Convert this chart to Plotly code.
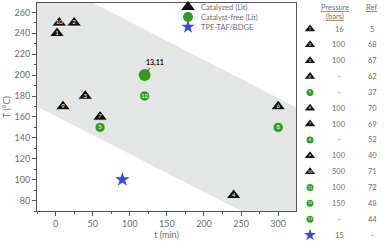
import plotly.graph_objects as go

# ---------------- data ----------------
cat_t = [2, 25, 40, 240, 300, 60, 10, 5]
cat_T = [240, 250, 180, 85, 170, 160, 170, 250]
cat_id = ["1", "2", "3", "4", "6", "7", "9", "10"]

free_t = [60, 300, 120]
free_T = [150, 150, 180]
free_id = ["5", "8", "12"]

free_big_t = [120]
free_big_T = [200]
free_big_label = "13,11"

star_t = [90]
star_T = [100]

# shaded band (t, T corners)
band_t = [-25, -25, 48, 325, 325, 250]
band_T = [170, 270, 270, 169, 70, 70]

table_id = ["1", "2", "3", "4", "5", "6", "7", "8", "9", "10", "11", "12", "13", ""]
table_kind = ["cat", "cat", "cat", "cat", "free", "cat", "cat", "free",
              "cat", "cat", "free", "free", "free", "star"]
table_pressure = ["16", "100", "100", "-", "-", "100", "100", "-", "100",
                  "500", "100", "150", "-", "15"]
table_ref = ["5", "68", "67", "62", "37", "70", "69", "52", "40", "71",
             "72", "48", "44", "-"]

legend_names = ["Catalyzed (Lit)", "Catalyst-free (Lit)", "TPE-TAF/BDGE"]

BLACK = "#111111"
GREEN = "#2e9e1c"
BLUE = "#3148f0"
GREY = "#6e6e6e"
FONT = "Lato"

W, H = 384, 247
L = 37
PL, PR, PT, PB = 37, 296, 3, 211  # main plot box in pixels

fig = go.Figure()

# main data traces
fig.add_trace(go.Scatter(
    x=cat_t, y=cat_T, mode="markers+text", text=cat_id,
    textposition="middle center",
    textfont=dict(color="white", size=6, family=FONT),
    marker=dict(symbol="triangle-up", size=13, color=BLACK,
                line=dict(color="white", width=0.8)),
    name=legend_names[0], showlegend=False, cliponaxis=False))
fig.add_trace(go.Scatter(
    x=free_t, y=free_T, mode="markers+text", text=free_id,
    textposition="middle center",
    textfont=dict(color="white", size=6, family=FONT),
    marker=dict(symbol="circle", size=10, color=GREEN,
                line=dict(color="white", width=0.5)),
    name=legend_names[1], showlegend=False))
fig.add_trace(go.Scatter(
    x=free_big_t, y=free_big_T, mode="markers",
    marker=dict(symbol="circle", size=12, color=GREEN),
    name=legend_names[1], showlegend=False))
fig.add_trace(go.Scatter(
    x=star_t, y=star_T, mode="markers",
    marker=dict(symbol="star", size=11, color=BLUE),
    name=legend_names[2], showlegend=False))

fig.add_annotation(x=free_big_t[0], y=free_big_T[0], xref="x", yref="y",
                   text="<b>" + free_big_label + "</b>", showarrow=True,
                   arrowhead=0, arrowwidth=0.8, arrowcolor=BLACK,
                   ax=10, ay=-13, standoff=5,
                   font=dict(size=7, color=BLACK, family=FONT))

# band shape
path = "M " + " L ".join(f"{t},{T}" for t, T in zip(band_t, band_T)) + " Z"
fig.add_shape(type="path", path=path, xref="x", yref="y", layer="below",
              fillcolor="#e4e6e6", line=dict(width=0))

# ---------------- overlay (pixel coords) for legend & table ----------------
def row_y(i):
    return 29 + 15.85 * i

sym_map = {"cat": ("triangle-up", BLACK, 9), "free": ("circle", GREEN, 7),
           "star": ("star", BLUE, 9)}
for kind in ["cat", "free", "star"]:
    idx = [i for i, k in enumerate(table_kind) if k == kind]
    s, c, sz = sym_map[kind]
    fig.add_trace(go.Scatter(
        x=[310] * len(idx), y=[row_y(i) for i in idx], xaxis="x2", yaxis="y2",
        mode="markers+text", text=[table_id[i] for i in idx],
        textposition="middle center",
        textfont=dict(color="white", size=4, family=FONT),
        marker=dict(symbol=s, size=sz, color=c), showlegend=False,
        hoverinfo="skip"))

for i in range(len(table_id)):
    fig.add_annotation(x=339, y=row_y(i), xref="x2", yref="y2",
                       text=table_pressure[i], showarrow=False,
                       font=dict(size=7.5, color=GREY, family=FONT))
    fig.add_annotation(x=372, y=row_y(i), xref="x2", yref="y2",
                       text=table_ref[i], showarrow=False,
                       font=dict(size=7.5, color=GREY, family=FONT))

fig.add_annotation(x=335, y=7, xref="x2", yref="y2", text="<u>Pressure</u>",
                   showarrow=False, font=dict(size=7.5, color=GREY, family=FONT))
fig.add_annotation(x=335, y=16, xref="x2", yref="y2", text="<u>(bars)</u>",
                   showarrow=False, font=dict(size=7.5, color=GREY, family=FONT))
fig.add_annotation(x=371, y=7, xref="x2", yref="y2", text="<u>Ref</u>",
                   showarrow=False, font=dict(size=7.5, color=GREY, family=FONT))

# manual legend
leg_sym = [("triangle-up", BLACK, 12), ("circle", GREEN, 10), ("star", BLUE, 10)]
leg_y = [7, 17, 27]
for (s, c, sz), yy, nm in zip(leg_sym, leg_y, legend_names):
    fig.add_trace(go.Scatter(x=[188], y=[yy], xaxis="x2", yaxis="y2",
                             mode="markers", marker=dict(symbol=s, size=sz, color=c),
                             showlegend=False, hoverinfo="skip"))
    fig.add_annotation(x=199, y=yy, xref="x2", yref="y2", text=nm,
                       xanchor="left", showarrow=False,
                       font=dict(size=7.5, color=GREY, family=FONT))

pw = W - L
fig.update_layout(
    width=W, height=H,
    margin=dict(l=L, r=0, t=0, b=0, autoexpand=False),
    paper_bgcolor="white", plot_bgcolor="rgba(0,0,0,0)",
    font=dict(family=FONT, color=GREY, size=9),
    showlegend=False,
    hovermode=False,
    xaxis=dict(domain=[0, (PR - PL) / pw], range=[-25, 324],
               tickvals=[0, 50, 100, 150, 200, 250, 300],
               ticks="outside", ticklen=4, tickcolor="#555",
               minor=dict(dtick=25, tick0=0, ticks="outside", ticklen=2, tickcolor="#555"),
               showline=True, linecolor="#555", linewidth=1, mirror=True,
               showgrid=False, zeroline=False, automargin=False,
               tickfont=dict(size=9, color=GREY),
               title=dict(text="t (min)", font=dict(size=9, color=GREY), standoff=2),
               anchor="y"),
    yaxis=dict(domain=[(H - PB) / H, (H - PT) / H], range=[70, 269],
               tickvals=[80, 100, 120, 140, 160, 180, 200, 220, 240, 260],
               ticks="outside", ticklen=4, tickcolor="#555",
               minor=dict(dtick=10, tick0=0, ticks="outside", ticklen=2, tickcolor="#555"),
               showline=True, linecolor="#555", linewidth=1, mirror=True,
               showgrid=False, zeroline=False, automargin=False,
               tickfont=dict(size=9, color=GREY),
               title=dict(text="T (°C)", font=dict(size=9, color=GREY), standoff=2),
               anchor="x"),
    xaxis2=dict(domain=[0, 1], range=[L, W], visible=False, anchor="y2",
                fixedrange=True),
    yaxis2=dict(domain=[0, 1], range=[H, 0], visible=False, anchor="x2",
                fixedrange=True),
)

fig.write_html("out.html", config={"displayModeBar": False},
               post_script="document.body.style.margin='0';document.body.style.padding='0';")
